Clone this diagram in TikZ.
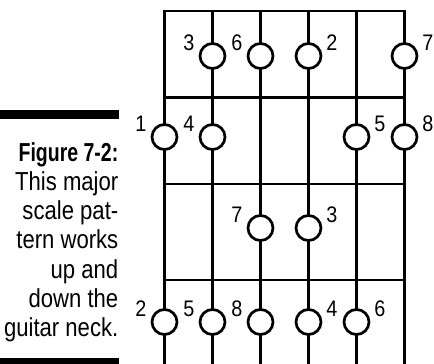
\documentclass[tikz,border=0pt]{standalone}
\usepackage{fontspec}
\setmainfont{Liberation Sans}
\newfontfamily\capfont[FakeStretch=0.85]{Liberation Sans}
\newfontfamily\capbf[FakeStretch=0.75]{Liberation Sans}
\newfontfamily\lblfont[FakeStretch=0.88]{Liberation Sans}
\begin{document}
\begin{tikzpicture}[x=1pt,y=-1pt,
  gridline/.style={line width=2.7pt,black},
  fretdot/.style={circle,draw=black,line width=2.7pt,fill=white,minimum size=25pt,inner sep=0pt},
  lbl/.style={font=\lblfont\fontsize{22.5}{22.5}\selectfont,inner sep=0pt},
  captxt/.style={anchor=base east,inner sep=0pt,font=\capfont\fontsize{26}{26}\selectfont},
  blackbar/.style={fill=black,draw=none}]
\useasboundingbox (0,0) rectangle (434,364);
% strings
\foreach \i in {0,...,5}{
  \coordinate (t\i) at (164.5+48*\i,11);
  \coordinate (b\i) at (164.5+48*\i,366);
  \draw[gridline] (t\i) -- (b\i);
}
% top line and frets
\draw[gridline] ([xshift=-1.35pt]t0) -- ([xshift=1.35pt]t5);
\foreach \y/\n in {97.7/1,184/2,280/3}{
  \coordinate (fl\n) at (164.5,\y);
  \coordinate (fr\n) at (404.5,\y);
  \draw[gridline] (fl\n) -- (fr\n);
}
% row 1
\node[fretdot] (c11) at (212.5,56) {};
\node[fretdot] (c12) at (260.5,56) {};
\node[fretdot] (c13) at (308.5,56) {};
\node[fretdot] (c14) at (404.5,56) {};
\node[lbl] (l11) at (189,43) {3};
\node[lbl] (l12) at (237,43) {6};
\node[lbl] (l13) at (332,43) {2};
\node[lbl] (l14) at (428,43) {7};
% row 2
\node[fretdot] (c21) at (164.5,137) {};
\node[fretdot] (c22) at (212.5,137) {};
\node[fretdot] (c23) at (356.5,137) {};
\node[fretdot] (c24) at (404.5,137) {};
\node[lbl] (l21) at (141,124) {1};
\node[lbl] (l22) at (189,124) {4};
\node[lbl] (l23) at (380,124) {5};
\node[lbl] (l24) at (428,124) {8};
% row 3
\node[fretdot] (c31) at (260.5,228) {};
\node[fretdot] (c32) at (308.5,228) {};
\node[lbl] (l31) at (237,215) {7};
\node[lbl] (l32) at (332,215) {3};
% row 4
\node[fretdot] (c41) at (164.5,322) {};
\node[fretdot] (c42) at (212.5,322) {};
\node[fretdot] (c43) at (260.5,322) {};
\node[fretdot] (c44) at (308.5,322) {};
\node[fretdot] (c45) at (356.5,322) {};
\node[lbl] (l41) at (141,309) {2};
\node[lbl] (l42) at (189,309) {5};
\node[lbl] (l43) at (237,309) {8};
\node[lbl] (l44) at (332,309) {4};
\node[lbl] (l45) at (380,309) {6};
% caption
\fill[blackbar] (0,110) rectangle (118.5,119);
\node[captxt,font=\capbf\bfseries\fontsize{26}{26}\selectfont] (k1) at (118.5,161) {Figure 7-2:};
\node[captxt] (k2) at (118.5,190.3) {This major};
\node[captxt] (k3) at (118.5,219.6) {scale pat-};
\node[captxt] (k4) at (118.5,248.9) {tern works};
\node[captxt] (k5) at (118.5,278.2) {up and};
\node[captxt] (k6) at (118.5,307.5) {down the};
\node[captxt] (k7) at (118.5,336.8) {guitar neck.};
\fill[blackbar] (0,357.5) rectangle (118.5,364);
\end{tikzpicture}
\end{document}
